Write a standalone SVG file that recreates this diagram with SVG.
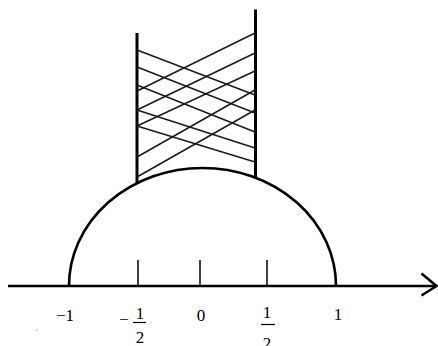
<svg xmlns="http://www.w3.org/2000/svg" width="438" height="346" viewBox="0 0 438 346">
<style>
.ln{stroke:#000;fill:none;stroke-linecap:butt}
.ax{stroke-width:2.6}
.tk{stroke-width:1.5}
.wall{stroke-width:3}
.arc{stroke-width:2.6}
.h{stroke:#1a1a1a;stroke-width:1.5;fill:none}
.lb{font-family:"Liberation Serif","Times New Roman",serif;font-size:17px;fill:#000;text-anchor:middle}
</style>
<rect width="438" height="346" fill="#fff"/>
<g id="axis">
<line class="ln ax" x1="8" y1="286" x2="436" y2="286"/>
<polyline class="ln ax" points="421.5,273.5 436.5,286 421.5,295.5" stroke-linejoin="miter"/>
<line class="ln tk" x1="138" y1="260" x2="138" y2="286"/>
<line class="ln tk" x1="200" y1="260" x2="200" y2="286"/>
<line class="ln tk" x1="267" y1="260" x2="267" y2="286"/>
</g>
<g id="arc">
<path class="ln arc" d="M69,286 A133.5,118 0 0 1 336,286"/>
</g>
<g id="walls">
<line class="ln wall" x1="137" y1="33" x2="137" y2="183.5"/>
<line class="ln wall" x1="255.5" y1="9.5" x2="255.5" y2="177"/>
</g>
<g id="hatching">
<line class="h" x1="137" y1="50" x2="255" y2="95"/>
<line class="h" x1="137" y1="67" x2="255" y2="113"/>
<line class="h" x1="137" y1="85" x2="255" y2="132"/>
<line class="h" x1="137" y1="110" x2="255" y2="148"/>
<line class="h" x1="137" y1="126" x2="255" y2="162"/>
<line class="h" x1="137" y1="91" x2="255" y2="33"/>
<line class="h" x1="137" y1="110" x2="255" y2="53"/>
<line class="h" x1="137" y1="126" x2="255" y2="71"/>
<line class="h" x1="137" y1="157" x2="255" y2="90"/>
<line class="h" x1="137" y1="177" x2="255" y2="110"/>
</g>
<g id="labels">
<text class="lb" x="65" y="321">−1</text>
<text class="lb" x="124" y="325">−</text>
<text class="lb" x="140" y="319">1</text>
<line class="ln" stroke-width="1.2" x1="133" y1="322.5" x2="146" y2="322.5"/>
<text class="lb" x="140" y="343">2</text>
<text class="lb" x="201" y="321">0</text>
<text class="lb" x="267" y="318">1</text>
<line class="ln" stroke-width="1.2" x1="261" y1="324.5" x2="275" y2="324.5"/>
<text class="lb" x="267" y="349">2</text>
<text class="lb" x="338" y="320">1</text>
</g>
<circle cx="37" cy="330" r="0.7" fill="#c88040"/>
</svg>
